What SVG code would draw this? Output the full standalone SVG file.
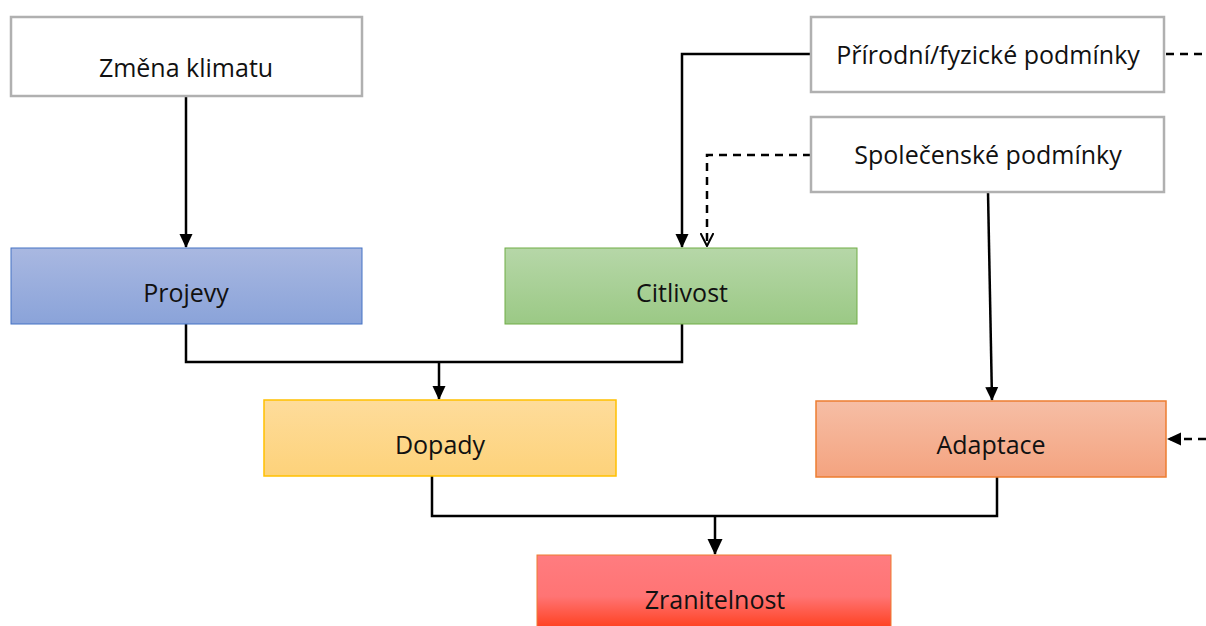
<svg xmlns="http://www.w3.org/2000/svg" width="1206" height="626" viewBox="0 0 1206 626">
<defs>
<linearGradient id="gBlue" x1="0" y1="0" x2="0" y2="1"><stop offset="0" stop-color="#a9b8e1"/><stop offset="1" stop-color="#8aa3d9"/></linearGradient>
<linearGradient id="gGreen" x1="0" y1="0" x2="0" y2="1"><stop offset="0" stop-color="#b6d7a8"/><stop offset="1" stop-color="#9bc985"/></linearGradient>
<linearGradient id="gYellow" x1="0" y1="0" x2="0" y2="1"><stop offset="0" stop-color="#fedc9b"/><stop offset="1" stop-color="#fdd27a"/></linearGradient>
<linearGradient id="gOrange" x1="0" y1="0" x2="0" y2="1"><stop offset="0" stop-color="#f6bea5"/><stop offset="1" stop-color="#f4a37f"/></linearGradient>
<linearGradient id="gRed" x1="0" y1="0" x2="0" y2="1"><stop offset="0" stop-color="#ff7c80"/><stop offset="0.55" stop-color="#ff7474"/><stop offset="1" stop-color="#ff3d1a"/></linearGradient>
<marker id="arr" markerWidth="14" markerHeight="14" refX="13" refY="6.5" orient="auto" markerUnits="userSpaceOnUse" viewBox="0 0 14 13"><path d="M0,0 L14,6.5 L0,13 z" fill="#000"/></marker>
<marker id="arrBig" markerWidth="16" markerHeight="16" refX="15" refY="7.5" orient="auto" markerUnits="userSpaceOnUse" viewBox="0 0 16 15"><path d="M0,0 L16,7.5 L0,15 z" fill="#000"/></marker>
<marker id="open" markerWidth="14" markerHeight="14" refX="13" refY="7" orient="auto" markerUnits="userSpaceOnUse" viewBox="0 0 14 14"><path d="M0,0.5 L13,7 L0,13.5" fill="none" stroke="#000" stroke-width="2"/></marker>
</defs>
<style>
text{font-family:"Open Sans","Noto Sans","Liberation Sans",sans-serif;font-size:25px;fill:#111;text-anchor:middle}
.plain{fill:#fff;stroke:#b0b0b0;stroke-width:2.5}
.c{fill:none;stroke:#000;stroke-width:2.5}
.d{fill:none;stroke:#000;stroke-width:2.5;stroke-dasharray:8,6}
</style>
<rect width="1206" height="626" fill="#fff"/>
<g id="connectors">
<path class="c" d="M186,96 V247" marker-end="url(#arr)"/>
<path class="c" d="M811,54 H682 V247" marker-end="url(#arr)"/>
<path class="d" d="M811,155 H707 V246" marker-end="url(#open)"/>
<path class="c" d="M988,192 L992,400" marker-end="url(#arr)"/>
<path class="c" d="M186,324 V362 H682 V324"/>
<path class="c" d="M439,362 V399" marker-end="url(#arr)"/>
<path class="c" d="M432,476 V516 H997 V477"/>
<path class="c" d="M715,516 V554" stroke-width="3.5" marker-end="url(#arrBig)"/>
<path class="d" d="M1166,54 H1206"/>
<path class="d" d="M1206,439 H1168" marker-end="url(#arr)"/>
</g>
<g id="zmena-klimatu"><rect class="plain" x="11" y="17" width="351" height="79"/><text x="186" y="77">Změna klimatu</text></g>
<g id="prirodni"><rect class="plain" x="811" y="17" width="353" height="75"/><text x="988" y="64">Přírodní/fyzické podmínky</text></g>
<g id="spolecenske"><rect class="plain" x="811" y="117" width="353" height="75"/><text x="988" y="164">Společenské podmínky</text></g>
<g id="projevy"><rect x="11" y="248" width="351" height="76" fill="url(#gBlue)" stroke="#4472c4" stroke-width="1"/><text x="186" y="302">Projevy</text></g>
<g id="citlivost"><rect x="505" y="248" width="352" height="76" fill="url(#gGreen)" stroke="#70ad47" stroke-width="1"/><text x="682" y="302">Citlivost</text></g>
<g id="dopady"><rect x="264" y="400" width="352" height="76" fill="url(#gYellow)" stroke="#ffc000" stroke-width="1.5"/><text x="440" y="454">Dopady</text></g>
<g id="adaptace"><rect x="816" y="401" width="350" height="76" fill="url(#gOrange)" stroke="#ed7d31" stroke-width="1.5"/><text x="991" y="454">Adaptace</text></g>
<g id="zranitelnost"><rect x="537" y="555" width="354" height="75" fill="url(#gRed)" stroke="#ed7d31" stroke-width="1"/><text x="715" y="609">Zranitelnost</text></g>
</svg>
